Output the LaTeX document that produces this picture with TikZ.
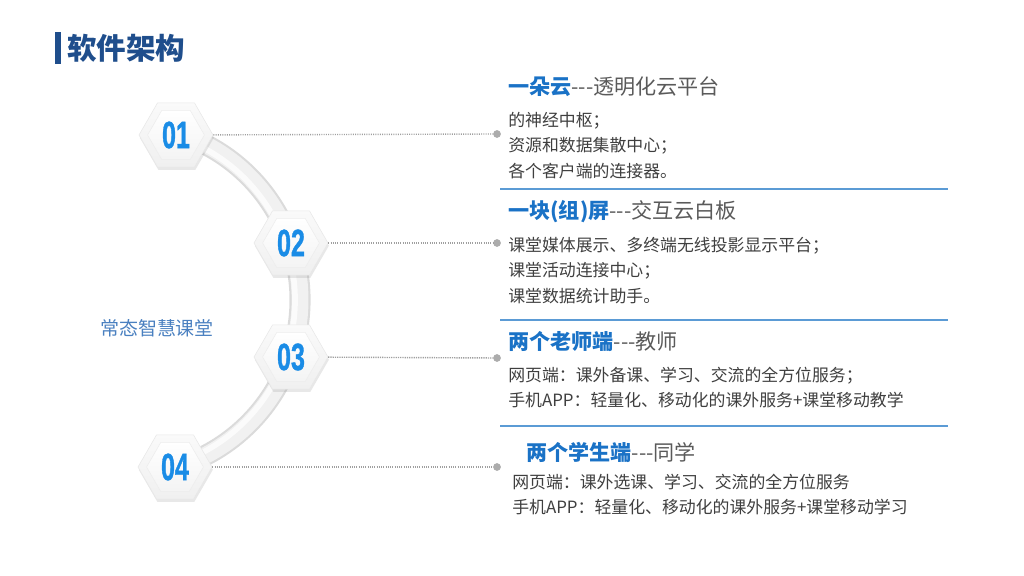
\documentclass[tikz,border=0pt]{standalone}
\usepackage{fontspec}
\setmainfont{Noto Sans CJK SC}
\newfontfamily\numfont[FakeBold=1.2]{Liberation Sans}
\usetikzlibrary{shapes.geometric,shadows}

\definecolor{titleblue}{HTML}{1F4E8C}
\definecolor{headblue}{HTML}{1A72C6}
\definecolor{numblue}{HTML}{1A8CE6}
\definecolor{lineblue}{HTML}{5B9BD5}
\definecolor{bodygray}{HTML}{3F3F3F}
\definecolor{subgray}{HTML}{5A5A5A}
\definecolor{labelblue}{HTML}{4A80C0}

\tikzset{
  hexout/.style={regular polygon, regular polygon sides=6, minimum size=1.85cm,
    top color=gray!4, bottom color=gray!12, draw=gray!18,
    drop shadow={opacity=0.18, shadow xshift=0.6pt, shadow yshift=-2pt}},
  hexin/.style={regular polygon, regular polygon sides=6, minimum size=1.42cm,
    inner sep=0pt, top color=white, bottom color=gray!9, draw=gray!14,
    text=numblue, font=\numfont\bfseries\fontsize{27}{27}\selectfont},
  dotline/.style={gray!75, line width=1pt, dash pattern=on 0.8pt off 0.8pt},
  enddot/.style={circle, fill=gray!65, inner sep=0pt, minimum size=5.5pt},
  heading/.style={anchor=west, inner sep=0pt, font=\fontsize{15}{18}\selectfont},
  body/.style={anchor=north west, align=left, inner sep=0pt, text=bodygray,
    font=\fontsize{12}{18.2}\selectfont},
  sepline/.style={lineblue, line width=0.8pt}
}

\newcommand{\hnum}[1]{\scalebox{0.66}[1]{#1}}
\newcommand{\headtxt}[2]{\textcolor{headblue}{\bfseries #1}\textcolor{subgray}{-{}-{}-#2}}

\begin{document}
\begin{tikzpicture}[x=0.025cm, y=-0.025cm]
  \useasboundingbox (0,0) rectangle (1024,576);

  % title
  \fill[titleblue] (55,32) rectangle (61,64);
  \node[anchor=west, inner sep=0pt, text=titleblue, font=\bfseries\fontsize{21}{24}\selectfont]
    (title) at (67,48) {软件架构};

  % arc behind the hexagons
  \draw[gray!28, line width=15pt] ([shift={(125,300)}]-73:175) arc[start angle=-73, end angle=73, radius=175];
  \draw[gray!11, line width=12pt] ([shift={(125,300)}]-73:175) arc[start angle=-73, end angle=73, radius=175];
  \draw[gray!3, line width=4pt] ([shift={(123,300)}]-73:172) arc[start angle=-73, end angle=73, radius=172];

  \node[text=labelblue, font=\fontsize{13.5}{16}\selectfont] (core) at (157,328) {常态智慧课堂};

  % 01
  \node[hexout] (h1) at (176,135) {};
  \node[hexin] at (h1) {\hnum{01}};
  \node[enddot] (d1) at (497,134) {};
  \draw[dotline] (h1) -- (d1);
  % 02
  \node[hexout] (h2) at (291,243) {};
  \node[hexin] at (h2) {\hnum{02}};
  \node[enddot] (d2) at (497,243) {};
  \draw[dotline] (h2) -- (d2);
  % 03
  \node[hexout] (h3) at (291,357) {};
  \node[hexin] at (h3) {\hnum{03}};
  \node[enddot] (d3) at (497,358) {};
  \draw[dotline] (h3) -- (d3);
  % 04
  \node[hexout] (h4) at (175,467) {};
  \node[hexin] at (h4) {\hnum{04}};
  \node[enddot] (d4) at (497,467) {};
  \draw[dotline] (h4) -- (d4);

  % 一朵云
  \node[heading] (t1) at (508,87) {\headtxt{一朵云}{透明化云平台}};
  \node[body] (b1) at (508,111.5) {的神经中枢；\\资源和数据集散中心；\\各个客户端的连接器。};
  \draw[sepline] (500,189) -- (948,189);
  % 一块(组)屏
  \node[heading] (t2) at (508,212) {\headtxt{一块(组)屏}{交互云白板}};
  \node[body] (b2) at (508,236.5) {课堂媒体展示、多终端无线投影显示平台；\\课堂活动连接中心；\\课堂数据统计助手。};
  \draw[sepline] (500,320) -- (948,320);
  % 两个老师端
  \node[heading] (t3) at (508,341) {\headtxt{两个老师端}{教师}};
  \node[body] (b3) at (508,366.5) {网页端：课外备课、学习、交流的全方位服务；\\手机APP：轻量化、移动化的课外服务+课堂移动教学};
  \draw[sepline] (500,426) -- (948,426);
  % 两个学生端
  \node[heading] (t4) at (526,452) {\headtxt{两个学生端}{同学}};
  \node[body] (b4) at (512,473.5) {网页端：课外选课、学习、交流的全方位服务\\手机APP：轻量化、移动化的课外服务+课堂移动学习};
\end{tikzpicture}
\end{document}
